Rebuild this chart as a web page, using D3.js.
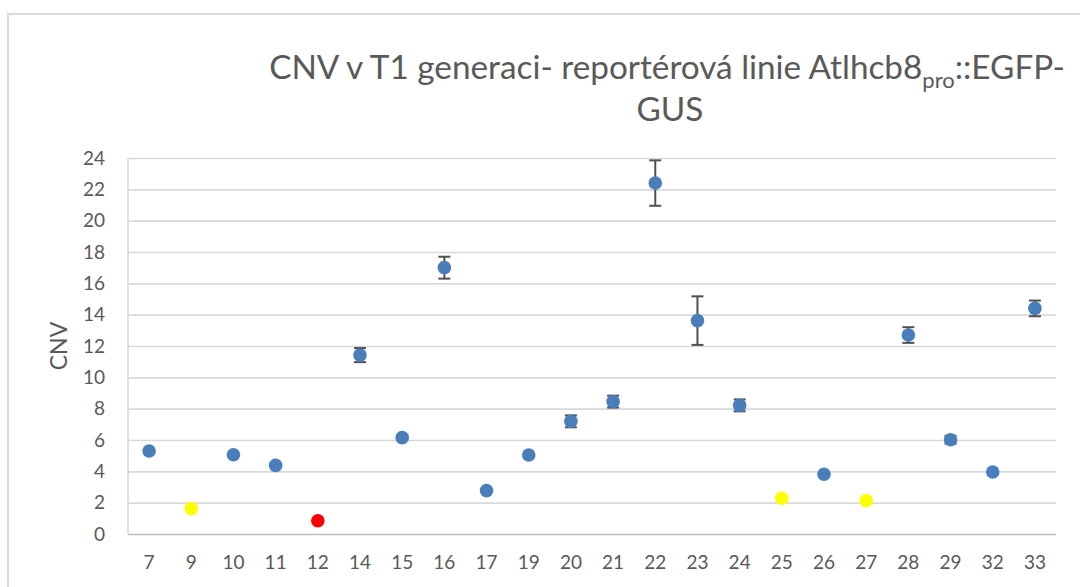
<!DOCTYPE html>
<html><head><meta charset="utf-8">
<script src="https://cdn.jsdelivr.net/npm/d3@7"></script>
<style>body{margin:0;background:#fff;overflow:hidden}</style>
</head><body><svg id="c" width="1080" height="587"></svg>
<script>
const categories = ["7","9","10","11","12","14","15","16","17","19","20","21","22","23","24","25","26","27","28","29","32","33"];
const values = [5.3,1.62,5.06,4.38,0.85,11.42,6.15,17.0,2.77,5.04,7.19,8.45,22.4,13.62,8.21,2.28,3.81,2.13,12.7,6.02,3.96,14.4];
const errors = [0,0,0,0,0,0.45,0.15,0.7,0,0,0.38,0.38,1.45,1.55,0.38,0,0,0,0.5,0.25,0,0.5];
const groups = ["a","b","a","a","c","a","a","a","a","a","a","a","a","a","a","b","a","b","a","a","a","a"];
const yTicks = [0,2,4,6,8,10,12,14,16,18,20,22,24];
const titleMain = "CNV v T1 generaci- reportérová linie Atlhcb8";
const titleSub = "pro";
const titleEnd = "::EGFP-";
const titleLine2 = "GUS";
const yTitle = "CNV";

const svg = d3.select("#c");
const FONT = "Lato, 'Open Sans', sans-serif";
const TXT = "#595959";
const m = {left:128, right:1056, top:158, bottom:534};

const color = d3.scaleOrdinal().domain(["a","b","c"]).range(["#4a7ebb","#ffff00","#ff0000"]);
const x = d3.scaleBand().domain(categories).range([m.left, m.right]);
const y = d3.scaleLinear().domain([0,24]).range([m.bottom, m.top]);

// chart area border
svg.append("path").attr("d","M8,600 V14 H1090").attr("fill","none").attr("stroke","#d9d9d9").attr("stroke-width",2);

// gridlines + y labels
const gy = svg.append("g").attr("transform",`translate(${m.left},0)`)
  .call(d3.axisLeft(y).tickValues(yTicks).tickSize(-(m.right-m.left)).tickPadding(23).tickFormat(d3.format("d")));
gy.select(".domain").remove();
gy.selectAll(".tick line").attr("stroke",d=>d===0?"#bfbfbf":"#d9d9d9").attr("stroke-width",1.6);
gy.selectAll(".tick text").attr("font-family",FONT).attr("font-size",19).attr("fill",TXT);

// left axis line
svg.append("line").attr("x1",m.left).attr("x2",m.left).attr("y1",m.top).attr("y2",m.bottom)
  .attr("stroke","#d9d9d9").attr("stroke-width",1.6);

// x labels
const gx = svg.append("g").attr("transform",`translate(0,${m.bottom})`)
  .call(d3.axisBottom(x).tickSize(0).tickPadding(22));
gx.select(".domain").remove();
gx.selectAll(".tick text").attr("font-family",FONT).attr("font-size",19).attr("fill",TXT);

// error bars
const pts = categories.map((c,i)=>({c, v:values[i], e:errors[i], g:groups[i]}));
const eb = svg.append("g").attr("stroke","#505050").attr("stroke-width",2);
pts.filter(d=>d.e>0).forEach(d=>{
  const cx = x(d.c)+x.bandwidth()/2;
  eb.append("line").attr("x1",cx).attr("x2",cx).attr("y1",y(d.v+d.e)).attr("y2",y(d.v-d.e));
  eb.append("line").attr("x1",cx-6).attr("x2",cx+6).attr("y1",y(d.v+d.e)).attr("y2",y(d.v+d.e));
  eb.append("line").attr("x1",cx-6).attr("x2",cx+6).attr("y1",y(d.v-d.e)).attr("y2",y(d.v-d.e));
});

// markers
svg.append("g").selectAll("circle").data(pts).join("circle")
  .attr("cx",d=>x(d.c)+x.bandwidth()/2).attr("cy",d=>y(d.v)).attr("r",6.8)
  .attr("fill",d=>color(d.g));

// title
const t1 = svg.append("text").attr("x",667).attr("y",79).attr("text-anchor","middle")
  .attr("font-family",FONT).attr("font-size",33.3).attr("fill",TXT);
t1.append("tspan").text(titleMain);
t1.append("tspan").attr("font-size",22).attr("dy",9).text(titleSub);
t1.append("tspan").attr("dy",-9).text(titleEnd);
svg.append("text").attr("x",670).attr("y",121).attr("text-anchor","middle")
  .attr("font-family",FONT).attr("font-size",33.3).attr("fill",TXT).text(titleLine2);

// y title
svg.append("text").attr("transform",`translate(67,${(m.top+m.bottom)/2}) rotate(-90)`)
  .attr("text-anchor","middle").attr("font-family",FONT).attr("font-size",23).attr("fill",TXT).text(yTitle);
</script></body></html>
